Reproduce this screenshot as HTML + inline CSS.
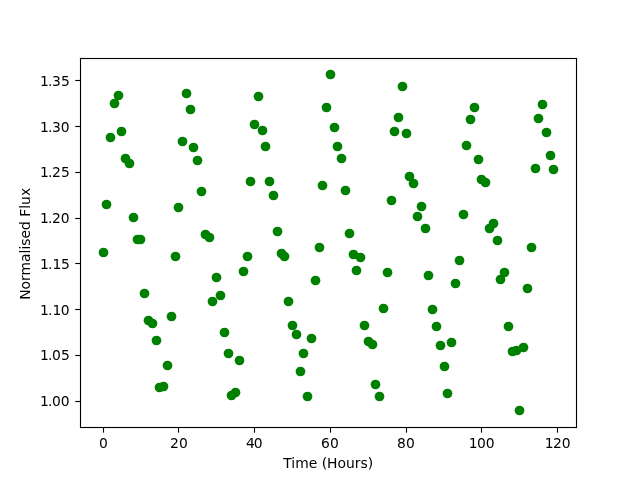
<!DOCTYPE html>
<html><head><meta charset="utf-8"><title>Normalised Flux vs Time</title>
<style>
html,body{margin:0;padding:0;background:#fff;}
body{width:640px;height:480px;overflow:hidden;}
svg{display:block;will-change:transform;}
text{font-family:"DejaVu Sans","Liberation Sans",sans-serif;font-size:13.89px;fill:#000;}
</style></head>
<body>
<svg xmlns="http://www.w3.org/2000/svg" width="640" height="480" viewBox="0 0 640 480">
<rect x="0" y="0" width="640" height="480" fill="#ffffff"/>
<g fill="#008000">
<circle cx="103.5" cy="252.5" r="4.86"/>
<circle cx="106.5" cy="204.5" r="4.86"/>
<circle cx="110.5" cy="137.5" r="4.86"/>
<circle cx="114.5" cy="103.5" r="4.86"/>
<circle cx="118.5" cy="95.5" r="4.86"/>
<circle cx="121.5" cy="131.5" r="4.86"/>
<circle cx="125.5" cy="158.5" r="4.86"/>
<circle cx="129.5" cy="163.5" r="4.86"/>
<circle cx="133.5" cy="217.5" r="4.86"/>
<circle cx="137.5" cy="239.5" r="4.86"/>
<circle cx="140.5" cy="239.5" r="4.86"/>
<circle cx="144.5" cy="293.5" r="4.86"/>
<circle cx="148.5" cy="320.5" r="4.86"/>
<circle cx="152.5" cy="323.5" r="4.86"/>
<circle cx="156.5" cy="340.5" r="4.86"/>
<circle cx="159.5" cy="387.5" r="4.86"/>
<circle cx="163.5" cy="386.5" r="4.86"/>
<circle cx="167.5" cy="365.5" r="4.86"/>
<circle cx="171.5" cy="316.5" r="4.86"/>
<circle cx="175.5" cy="256.5" r="4.86"/>
<circle cx="178.5" cy="207.5" r="4.86"/>
<circle cx="182.5" cy="141.5" r="4.86"/>
<circle cx="186.5" cy="93.5" r="4.86"/>
<circle cx="190.5" cy="109.5" r="4.86"/>
<circle cx="193.5" cy="147.5" r="4.86"/>
<circle cx="197.5" cy="160.5" r="4.86"/>
<circle cx="201.5" cy="191.5" r="4.86"/>
<circle cx="205.5" cy="234.5" r="4.86"/>
<circle cx="209.5" cy="237.5" r="4.86"/>
<circle cx="212.5" cy="301.5" r="4.86"/>
<circle cx="216.5" cy="277.5" r="4.86"/>
<circle cx="220.5" cy="295.5" r="4.86"/>
<circle cx="224.5" cy="332.5" r="4.86"/>
<circle cx="228.5" cy="353.5" r="4.86"/>
<circle cx="231.5" cy="395.5" r="4.86"/>
<circle cx="235.5" cy="392.5" r="4.86"/>
<circle cx="239.5" cy="360.5" r="4.86"/>
<circle cx="243.5" cy="271.5" r="4.86"/>
<circle cx="247.5" cy="256.5" r="4.86"/>
<circle cx="250.5" cy="181.5" r="4.86"/>
<circle cx="254.5" cy="124.5" r="4.86"/>
<circle cx="258.5" cy="96.5" r="4.86"/>
<circle cx="262.5" cy="130.5" r="4.86"/>
<circle cx="265.5" cy="146.5" r="4.86"/>
<circle cx="269.5" cy="181.5" r="4.86"/>
<circle cx="273.5" cy="195.5" r="4.86"/>
<circle cx="277.5" cy="231.5" r="4.86"/>
<circle cx="281.5" cy="253.5" r="4.86"/>
<circle cx="284.5" cy="256.5" r="4.86"/>
<circle cx="288.5" cy="301.5" r="4.86"/>
<circle cx="292.5" cy="325.5" r="4.86"/>
<circle cx="296.5" cy="334.5" r="4.86"/>
<circle cx="300.5" cy="371.5" r="4.86"/>
<circle cx="303.5" cy="353.5" r="4.86"/>
<circle cx="307.5" cy="396.5" r="4.86"/>
<circle cx="311.5" cy="338.5" r="4.86"/>
<circle cx="315.5" cy="280.5" r="4.86"/>
<circle cx="319.5" cy="247.5" r="4.86"/>
<circle cx="322.5" cy="185.5" r="4.86"/>
<circle cx="326.5" cy="107.5" r="4.86"/>
<circle cx="330.5" cy="74.5" r="4.86"/>
<circle cx="334.5" cy="127.5" r="4.86"/>
<circle cx="337.5" cy="146.5" r="4.86"/>
<circle cx="341.5" cy="158.5" r="4.86"/>
<circle cx="345.5" cy="190.5" r="4.86"/>
<circle cx="349.5" cy="233.5" r="4.86"/>
<circle cx="353.5" cy="254.5" r="4.86"/>
<circle cx="356.5" cy="270.5" r="4.86"/>
<circle cx="360.5" cy="257.5" r="4.86"/>
<circle cx="364.5" cy="325.5" r="4.86"/>
<circle cx="368.5" cy="341.5" r="4.86"/>
<circle cx="372.5" cy="344.5" r="4.86"/>
<circle cx="375.5" cy="384.5" r="4.86"/>
<circle cx="379.5" cy="396.5" r="4.86"/>
<circle cx="383.5" cy="308.5" r="4.86"/>
<circle cx="387.5" cy="272.5" r="4.86"/>
<circle cx="391.5" cy="200.5" r="4.86"/>
<circle cx="394.5" cy="131.5" r="4.86"/>
<circle cx="398.5" cy="117.5" r="4.86"/>
<circle cx="402.5" cy="86.5" r="4.86"/>
<circle cx="406.5" cy="133.5" r="4.86"/>
<circle cx="409.5" cy="176.5" r="4.86"/>
<circle cx="413.5" cy="183.5" r="4.86"/>
<circle cx="417.5" cy="216.5" r="4.86"/>
<circle cx="421.5" cy="206.5" r="4.86"/>
<circle cx="425.5" cy="228.5" r="4.86"/>
<circle cx="428.5" cy="275.5" r="4.86"/>
<circle cx="432.5" cy="309.5" r="4.86"/>
<circle cx="436.5" cy="326.5" r="4.86"/>
<circle cx="440.5" cy="345.5" r="4.86"/>
<circle cx="444.5" cy="366.5" r="4.86"/>
<circle cx="447.5" cy="393.5" r="4.86"/>
<circle cx="451.5" cy="342.5" r="4.86"/>
<circle cx="455.5" cy="283.5" r="4.86"/>
<circle cx="459.5" cy="260.5" r="4.86"/>
<circle cx="463.5" cy="214.5" r="4.86"/>
<circle cx="466.5" cy="145.5" r="4.86"/>
<circle cx="470.5" cy="119.5" r="4.86"/>
<circle cx="474.5" cy="107.5" r="4.86"/>
<circle cx="478.5" cy="159.5" r="4.86"/>
<circle cx="481.5" cy="179.5" r="4.86"/>
<circle cx="485.5" cy="182.5" r="4.86"/>
<circle cx="489.5" cy="228.5" r="4.86"/>
<circle cx="493.5" cy="223.5" r="4.86"/>
<circle cx="497.5" cy="240.5" r="4.86"/>
<circle cx="500.5" cy="279.5" r="4.86"/>
<circle cx="504.5" cy="272.5" r="4.86"/>
<circle cx="508.5" cy="326.5" r="4.86"/>
<circle cx="512.5" cy="351.5" r="4.86"/>
<circle cx="516.5" cy="350.5" r="4.86"/>
<circle cx="519.5" cy="410.5" r="4.86"/>
<circle cx="523.5" cy="347.5" r="4.86"/>
<circle cx="527.5" cy="288.5" r="4.86"/>
<circle cx="531.5" cy="247.5" r="4.86"/>
<circle cx="535.5" cy="168.5" r="4.86"/>
<circle cx="538.5" cy="118.5" r="4.86"/>
<circle cx="542.5" cy="104.5" r="4.86"/>
<circle cx="546.5" cy="132.5" r="4.86"/>
<circle cx="550.5" cy="155.5" r="4.86"/>
<circle cx="553.5" cy="169.5" r="4.86"/>
</g>
<g fill="#000000">
<rect x="79.944" y="57.944" width="497.111" height="1.111"/>
<rect x="79.944" y="426.944" width="497.111" height="1.111"/>
<rect x="79.944" y="57.944" width="1.111" height="370.111"/>
<rect x="575.944" y="57.944" width="1.111" height="370.111"/>
<rect x="102.944" y="428" width="1.111" height="4.65"/>
<rect x="177.944" y="428" width="1.111" height="4.65"/>
<rect x="253.944" y="428" width="1.111" height="4.65"/>
<rect x="329.944" y="428" width="1.111" height="4.65"/>
<rect x="405.944" y="428" width="1.111" height="4.65"/>
<rect x="480.944" y="428" width="1.111" height="4.65"/>
<rect x="556.944" y="428" width="1.111" height="4.65"/>
<rect x="75.25" y="79.944" width="4.75" height="1.111"/>
<rect x="75.25" y="125.944" width="4.75" height="1.111"/>
<rect x="75.25" y="171.944" width="4.75" height="1.111"/>
<rect x="75.25" y="217.944" width="4.75" height="1.111"/>
<rect x="75.25" y="262.944" width="4.75" height="1.111"/>
<rect x="75.25" y="308.944" width="4.75" height="1.111"/>
<rect x="75.25" y="354.944" width="4.75" height="1.111"/>
<rect x="75.25" y="400.944" width="4.75" height="1.111"/>
</g>
<g>
<text x="98.98" y="448">0</text>
<text x="170.06 178.90" y="448">20</text>
<text x="246.06 253.80" y="448">40</text>
<text x="321.06 329.90" y="448">60</text>
<text x="397.06 405.90" y="448">80</text>
<text x="468.84 476.93 485.77" y="448">100</text>
<text x="544.84 552.93 561.77" y="448">120</text>
<text x="40.0 48.1 52.0 60.96" y="86">1.35</text>
<text x="40.0 48.1 52.0 60.76" y="132">1.30</text>
<text x="40.0 48.1 52.0 60.96" y="177">1.25</text>
<text x="40.0 48.1 52.0 60.76" y="223">1.20</text>
<text x="40.0 48.1 52.4 60.96" y="269">1.15</text>
<text x="40.0 48.1 52.4 60.76" y="315">1.10</text>
<text x="40.0 48.1 52.0 60.96" y="360">1.05</text>
<text x="40.0 48.1 52.0 60.76" y="406">1.00</text>
<text x="328.2" y="467.8" text-anchor="middle">Time (Hours)</text>
<text transform="translate(30.2,243.85) rotate(-90)" text-anchor="middle">Normalised Flux</text>
</g>
</svg>
</body></html>
